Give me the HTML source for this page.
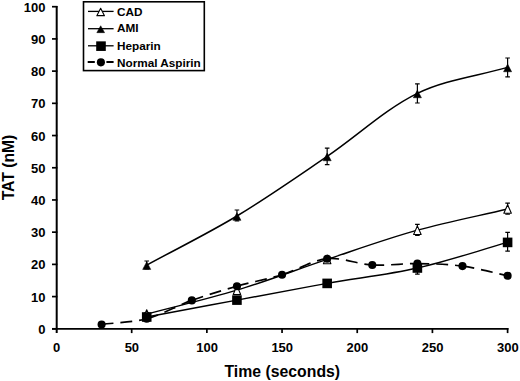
<!DOCTYPE html>
<html><head><meta charset="utf-8"><title>TAT chart</title>
<style>
html,body{margin:0;padding:0;background:#fff;}
body{width:520px;height:381px;overflow:hidden;font-family:"Liberation Sans",sans-serif;}
svg{display:block}
text{font-family:"Liberation Sans",sans-serif;font-weight:bold;fill:#000}
</style></head><body>
<svg width="520" height="381" viewBox="0 0 520 381">
<rect width="520" height="381" fill="#fff"/>
<g stroke="#000" stroke-width="1.7" fill="none" stroke-linecap="butt">
<path d="M56.7,5.9 V333" stroke-width="2"/>
<path d="M52,328.8 H508.45"/>
<path d="M52,328.80 H57.4"/>
<path d="M52,296.59 H57.4"/>
<path d="M52,264.38 H57.4"/>
<path d="M52,232.17 H57.4"/>
<path d="M52,199.96 H57.4"/>
<path d="M52,167.75 H57.4"/>
<path d="M52,135.54 H57.4"/>
<path d="M52,103.33 H57.4"/>
<path d="M52,71.12 H57.4"/>
<path d="M52,38.91 H57.4"/>
<path d="M52,6.70 H57.4"/>
<path d="M131.68,328.0 V333.1"/>
<path d="M206.87,328.0 V333.1"/>
<path d="M282.05,328.0 V333.1"/>
<path d="M357.23,328.0 V333.1"/>
<path d="M432.42,328.0 V333.1"/>
<path d="M507.60,328.0 V333.1"/>
</g>
<text x="45.4" y="333.80" font-size="13" text-anchor="end">0</text>
<text x="45.4" y="301.59" font-size="13" text-anchor="end">10</text>
<text x="45.4" y="269.38" font-size="13" text-anchor="end">20</text>
<text x="45.4" y="237.17" font-size="13" text-anchor="end">30</text>
<text x="45.4" y="204.96" font-size="13" text-anchor="end">40</text>
<text x="45.4" y="172.75" font-size="13" text-anchor="end">50</text>
<text x="45.4" y="140.54" font-size="13" text-anchor="end">60</text>
<text x="45.4" y="108.33" font-size="13" text-anchor="end">70</text>
<text x="45.4" y="76.12" font-size="13" text-anchor="end">80</text>
<text x="45.4" y="43.91" font-size="13" text-anchor="end">90</text>
<text x="45.4" y="11.70" font-size="13" text-anchor="end">100</text>
<text x="56.70" y="352.3" font-size="13" text-anchor="middle">0</text>
<text x="131.88" y="352.3" font-size="13" text-anchor="middle">50</text>
<text x="207.07" y="352.3" font-size="13" text-anchor="middle">100</text>
<text x="282.25" y="352.3" font-size="13" text-anchor="middle">150</text>
<text x="357.43" y="352.3" font-size="13" text-anchor="middle">200</text>
<text x="432.62" y="352.3" font-size="13" text-anchor="middle">250</text>
<text x="507.80" y="352.3" font-size="13" text-anchor="middle">300</text>
<text x="282.3" y="376.8" font-size="15.8" text-anchor="middle">Time (seconds)</text>
<text transform="translate(14.4,167.5) rotate(-90)" font-size="15.7" text-anchor="middle">TAT (nM)</text>
<path d="M146.72,314.00 C176.79,306.07 207.19,299.20 236.94,290.20 C267.34,281.00 297.01,269.43 327.16,259.40 C357.15,249.43 386.96,238.70 417.38,230.20 C447.11,221.90 477.53,216.07 507.60,209.00" stroke="#000" stroke-width="1.4" fill="none"/>
<g stroke="#000" stroke-width="1.2" fill="none"><path d="M146.72,312.50 V315.50 M144.42,312.50 H149.02 M144.42,315.50 H149.02"/><path d="M236.94,287.50 V292.00 M234.64,287.50 H239.24 M234.64,292.00 H239.24"/><path d="M327.16,256.50 V261.50 M324.86,256.50 H329.46 M324.86,261.50 H329.46"/><path d="M417.38,224.40 V235.40 M415.08,224.40 H419.68 M415.08,235.40 H419.68"/><path d="M507.60,203.20 V214.20 M505.30,203.20 H509.90 M505.30,214.20 H509.90"/></g>
<path d="M146.72,309.70 L150.47,318.30 H142.97 Z" fill="#fff" stroke="#000" stroke-width="1.1" stroke-linejoin="round"/>
<path d="M236.94,285.90 L240.69,294.50 H233.19 Z" fill="#fff" stroke="#000" stroke-width="1.1" stroke-linejoin="round"/>
<path d="M327.16,255.10 L330.91,263.70 H323.41 Z" fill="#fff" stroke="#000" stroke-width="1.1" stroke-linejoin="round"/>
<path d="M417.38,225.90 L421.13,234.50 H413.63 Z" fill="#fff" stroke="#000" stroke-width="1.1" stroke-linejoin="round"/>
<path d="M507.60,204.70 L511.35,213.30 H503.85 Z" fill="#fff" stroke="#000" stroke-width="1.1" stroke-linejoin="round"/>
<path d="M146.72,265.10 C176.79,248.73 207.64,233.65 236.94,216.00 C267.79,197.42 297.35,176.65 327.16,156.40 C357.50,135.79 384.93,109.41 417.38,93.40 C445.07,79.74 477.53,76.07 507.60,67.40" stroke="#000" stroke-width="1.5" fill="none"/>
<g stroke="#000" stroke-width="1.2" fill="none"><path d="M146.72,261.00 V269.00 M144.42,261.00 H149.02 M144.42,269.00 H149.02"/><path d="M236.94,210.00 V220.90 M234.64,210.00 H239.24 M234.64,220.90 H239.24"/><path d="M327.16,148.10 V164.70 M324.86,148.10 H329.46 M324.86,164.70 H329.46"/><path d="M417.38,83.80 V103.00 M415.08,83.80 H419.68 M415.08,103.00 H419.68"/><path d="M507.60,58.00 V76.80 M505.30,58.00 H509.90 M505.30,76.80 H509.90"/></g>
<path d="M146.72,261.80 L150.77,269.45 H142.67 Z" fill="#000" stroke="#000" stroke-width="0.5" stroke-linejoin="round"/>
<path d="M236.94,212.70 L240.99,220.35 H232.89 Z" fill="#000" stroke="#000" stroke-width="0.5" stroke-linejoin="round"/>
<path d="M327.16,153.10 L331.21,160.75 H323.11 Z" fill="#000" stroke="#000" stroke-width="0.5" stroke-linejoin="round"/>
<path d="M417.38,90.10 L421.43,97.75 H413.33 Z" fill="#000" stroke="#000" stroke-width="0.5" stroke-linejoin="round"/>
<path d="M507.60,64.10 L511.65,71.75 H503.55 Z" fill="#000" stroke="#000" stroke-width="0.5" stroke-linejoin="round"/>
<path d="M146.72,317.00 C176.79,311.37 206.86,305.70 236.94,300.10 C267.01,294.50 297.05,288.76 327.16,283.40 C357.20,278.06 387.67,274.75 417.38,268.00 C447.82,261.08 477.53,250.93 507.60,242.40" stroke="#000" stroke-width="1.4" fill="none"/>
<g stroke="#000" stroke-width="1.2" fill="none"><path d="M146.72,315.00 V319.00 M144.42,315.00 H149.02 M144.42,319.00 H149.02"/><path d="M236.94,297.50 V301.50 M234.64,297.50 H239.24 M234.64,301.50 H239.24"/><path d="M327.16,281.00 V285.00 M324.86,281.00 H329.46 M324.86,285.00 H329.46"/><path d="M417.38,261.00 V274.20 M415.08,261.00 H419.68 M415.08,274.20 H419.68"/><path d="M507.60,232.30 V251.20 M505.30,232.30 H509.90 M505.30,251.20 H509.90"/></g>
<rect x="141.92" y="312.20" width="9.6" height="9.6" fill="#000"/>
<rect x="232.14" y="295.30" width="9.6" height="9.6" fill="#000"/>
<rect x="322.36" y="278.60" width="9.6" height="9.6" fill="#000"/>
<rect x="412.58" y="263.20" width="9.6" height="9.6" fill="#000"/>
<rect x="502.80" y="237.60" width="9.6" height="9.6" fill="#000"/>
<g stroke="#000" stroke-width="1.7" fill="none" stroke-dasharray="11.9 6.95">
<path d="M101.61,324.45 C116.65,322.53 132.20,322.57 146.72,318.70"/>
<path d="M146.72,318.70 C162.27,314.56 176.58,305.90 191.83,300.40"/>
<path d="M191.83,300.40 C206.65,295.06 221.78,290.52 236.94,286.20"/>
<path d="M236.94,286.20 C251.86,281.95 267.22,279.22 282.05,274.70"/>
<path d="M282.05,274.70 C297.30,270.05 311.75,260.36 327.16,258.70"/>
<path d="M327.16,258.70 C341.82,257.12 357.16,264.18 372.27,265.00"/>
<path d="M372.27,265.00 C387.24,265.81 402.35,263.42 417.38,263.60"/>
<path d="M417.38,263.60 C432.42,263.78 447.61,264.09 462.49,266.10"/>
<path d="M462.49,266.10 C477.69,268.15 492.56,272.57 507.60,275.80"/>
</g>
<circle cx="101.61" cy="324.45" r="4.05" fill="#000"/>
<circle cx="146.72" cy="318.70" r="4.05" fill="#000"/>
<circle cx="191.83" cy="300.40" r="4.05" fill="#000"/>
<circle cx="236.94" cy="286.20" r="4.05" fill="#000"/>
<circle cx="282.05" cy="274.70" r="4.05" fill="#000"/>
<circle cx="327.16" cy="258.70" r="4.05" fill="#000"/>
<circle cx="372.27" cy="265.00" r="4.05" fill="#000"/>
<circle cx="417.38" cy="263.60" r="4.05" fill="#000"/>
<circle cx="462.49" cy="266.10" r="4.05" fill="#000"/>
<circle cx="507.60" cy="275.80" r="4.05" fill="#000"/>
<rect x="83.5" y="1.8" width="120.8" height="68.8" fill="#fff" stroke="#000" stroke-width="1.6"/>
<path d="M88,11.4 H113.6" stroke="#000" stroke-width="1.3"/>
<path d="M100.65,8.35 L104.45,15.65 H96.85 Z" fill="#fff" stroke="#000" stroke-width="1.1" stroke-linejoin="round"/>
<path d="M88,28.7 H113.6" stroke="#000" stroke-width="1.3"/>
<path d="M100.70,25.75 L104.60,32.65 H96.80 Z" fill="#000" stroke="#000" stroke-width="0.5" stroke-linejoin="round"/>
<path d="M88,45.8 H113.6" stroke="#000" stroke-width="1.3"/>
<rect x="96.20" y="41.35" width="9.6" height="9.6" fill="#000"/>
<path d="M87.7,62.0 H94.8 M106.4,62.0 H113.6" stroke="#000" stroke-width="2"/>
<circle cx="100.90" cy="62.35" r="4.05" fill="#000"/>
<text x="117.0" y="15.9" font-size="11.75">CAD</text>
<text x="117.0" y="32.4" font-size="11.75">AMI</text>
<text x="117.0" y="49.6" font-size="11.75">Heparin</text>
<text x="117.0" y="67.2" font-size="11.75">Normal Aspirin</text>
</svg></body></html>
